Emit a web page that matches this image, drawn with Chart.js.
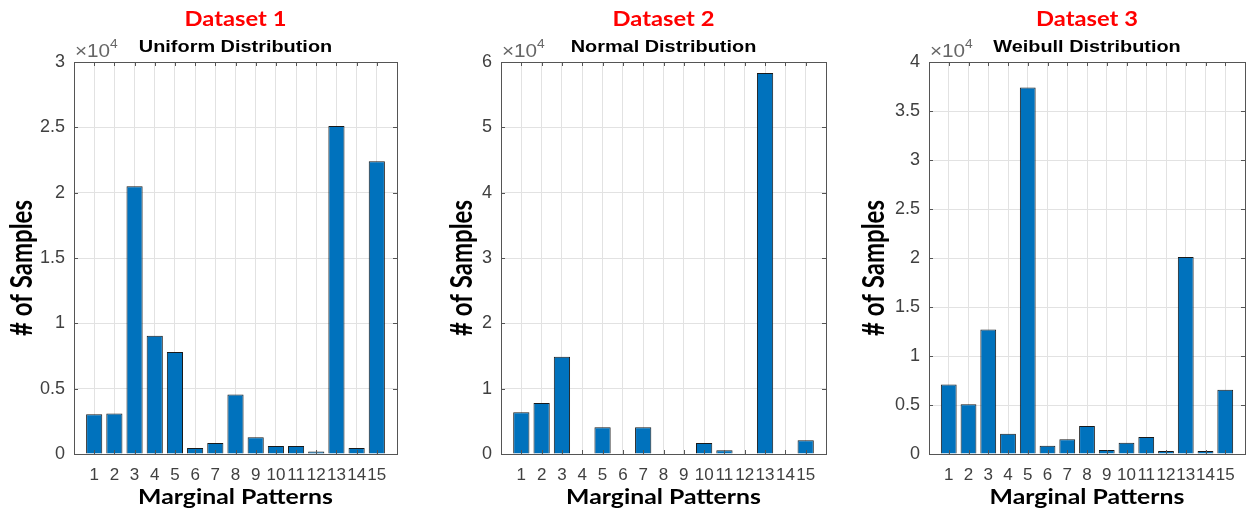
<!DOCTYPE html>
<html>
<head>
<meta charset="utf-8">
<script src="https://cdn.jsdelivr.net/npm/chart.js@4.4.1/dist/chart.umd.min.js"></script>
<style>
  body { margin: 0; background: #fff; width: 1256px; height: 514px; overflow: hidden; }
  canvas { position: absolute; top: 0; }
</style>
</head>
<body>
<canvas id="c1" width="420" height="514" style="left:0px"></canvas>
<canvas id="c2" width="420" height="514" style="left:420px"></canvas>
<canvas id="c3" width="416" height="514" style="left:840px"></canvas>
<script>
// === data ===
const patterns = [1, 2, 3, 4, 5, 6, 7, 8, 9, 10, 11, 12, 13, 14, 15];
const uniformCounts = [3050, 3100, 20500, 9050, 7800, 450, 850, 4550, 1280, 620, 610, 200, 25100, 450, 22400];
const normalCounts = [6400, 7800, 14900, 0, 4100, 0, 4100, 0, 0, 1700, 570, 0, 58300, 0, 2100];
const weibullCounts = [7100, 5070, 12700, 2070, 37400, 850, 1500, 2860, 400, 1150, 1730, 300, 20100, 300, 6560];

const datasetTitles = ["Dataset 1", "Dataset 2", "Dataset 3"];
const distTitles = ["Uniform Distribution", "Normal Distribution", "Weibull Distribution"];
const yMax = [30000, 60000, 40000];
const yStep = [5000, 10000, 5000];
const xLabel = "Marginal Patterns";
const yLabel = "# of Samples";

// === layout (px) ===
const panels = [
  { id: "c1", left: 0, width: 420, areaLeft: 74, areaRight: 397, yTitleX: 22 },
  { id: "c2", left: 420, width: 420, areaLeft: 501, areaRight: 826, yTitleX: 42 },
  { id: "c3", left: 840, width: 416, areaLeft: 929, areaRight: 1253, yTitleX: 34 },
];
const AREA_TOP = 62, AREA_BOTTOM = 454, H = 514;
const CALIBRI = "Lato, 'Open Sans', sans-serif";
const ARIAL = "'Liberation Sans', Arial, sans-serif";

Chart.defaults.font.family = ARIAL;
Chart.defaults.animation = false;

// 橫向拉寬的文字
function wideText(ctx, txt, x, y, sx) {
  ctx.save();
  ctx.translate(x, y);
  ctx.scale(sx, 1);
  ctx.fillText(txt, 0, 0);
  ctx.restore();
}

// === 外框、內側刻度、標題文字 ===
const decor = {
  id: "decor",
  afterDraw(chart, args, o) {
    const { ctx, chartArea: a, scales: { x, y } } = chart;
    ctx.save();
    ctx.strokeStyle = "#555";
    ctx.lineWidth = 1;
    ctx.beginPath();
    x.ticks.forEach(t => {
      if (t.value <= 0 || t.value >= 16) return;
      const px = Math.round(x.getPixelForValue(t.value)) + 0.5;
      ctx.moveTo(px, a.bottom); ctx.lineTo(px, a.bottom - 4);
      ctx.moveTo(px, a.top); ctx.lineTo(px, a.top + 4);
    });
    y.ticks.forEach(t => {
      const py = Math.round(y.getPixelForValue(t.value)) + 0.5;
      ctx.moveTo(a.left, py); ctx.lineTo(a.left + 4, py);
      ctx.moveTo(a.right, py); ctx.lineTo(a.right - 4, py);
    });
    ctx.stroke();
    ctx.strokeRect(Math.round(a.left) + 0.5, Math.round(a.top) + 0.5,
      Math.round(a.right - a.left), Math.round(a.bottom - a.top));

    const cx = (a.left + a.right) / 2;
    ctx.textAlign = "center";
    ctx.textBaseline = "alphabetic";
    ctx.fillStyle = "#ff0000";
    ctx.font = "bold 21px " + CALIBRI;
    wideText(ctx, o.title, cx, 26, 1.13);
    ctx.fillStyle = "#000";
    ctx.font = "bold 17px " + ARIAL;
    wideText(ctx, o.subtitle, cx, 52, 1.17);
    ctx.font = "bold 21px " + CALIBRI;
    wideText(ctx, xLabel, cx, 504, 1.18);

    // ×10^4
    ctx.textAlign = "left";
    ctx.fillStyle = "#666";
    ctx.font = "18px " + ARIAL;
    wideText(ctx, "\u00d710", a.left + 1, 57, 1.15);
    const w = ctx.measureText("\u00d710").width * 1.15;
    ctx.font = "12px " + ARIAL;
    wideText(ctx, "4", a.left + 1 + w, 48, 1.15);

    // y title (stretched)
    ctx.translate(o.yTitleX, 268);
    ctx.rotate(-Math.PI / 2);
    ctx.scale(1, 1.3);
    ctx.textAlign = "center";
    ctx.textBaseline = "middle";
    ctx.fillStyle = "#000";
    ctx.font = "bold 24px " + CALIBRI;
    ctx.fillText(yLabel, 0, 0);
    ctx.restore();
  }
};

function makeChart(i, counts) {
  const p = panels[i];
  new Chart(document.getElementById(p.id), {
    type: "bar",
    data: {
      datasets: [{
        data: patterns.map((v, k) => ({ x: v, y: counts[k] })),
        backgroundColor: "#0072BD",
        borderColor: "#1a1a1a",
        borderWidth: 1,
        barPercentage: 0.8,
        categoryPercentage: 1,
      }],
    },
    options: {
      responsive: false,
      devicePixelRatio: 1,
      layout: { padding: { top: AREA_TOP, left: 0, bottom: 0, right: p.left + p.width - p.areaRight } },
      plugins: {
        legend: { display: false },
        tooltip: { enabled: false },
        decor: { title: datasetTitles[i], subtitle: distTitles[i], yTitleX: p.yTitleX },
      },
      scales: {
        x: {
          type: "linear",
          min: 0,
          max: 16,
          offset: false,
          afterFit: s => { s.height = H - AREA_BOTTOM; },
          grid: { color: "#e2e2e2", drawTicks: false, offset: false },
          border: { display: false },
          ticks: {
            stepSize: 1,
            autoSkip: false,
            maxRotation: 0,
            minRotation: 0,
            padding: 11,
            color: "#404040",
            font: { size: 17 },
            callback: v => (v > 0 && v < 16 ? String(v) : ""),
          },
        },
        y: {
          min: 0,
          max: yMax[i],
          afterFit: s => { s.width = p.areaLeft - p.left; },
          grid: { color: "#e2e2e2", drawTicks: false },
          border: { display: false },
          ticks: {
            stepSize: yStep[i],
            padding: 9,
            color: "#404040",
            font: { size: 18 },
            callback: v => String(v / 10000),
          },
        },
      },
    },
    plugins: [decor],
  });
}

makeChart(0, uniformCounts);
makeChart(1, normalCounts);
makeChart(2, weibullCounts);
</script>
</body>
</html>
